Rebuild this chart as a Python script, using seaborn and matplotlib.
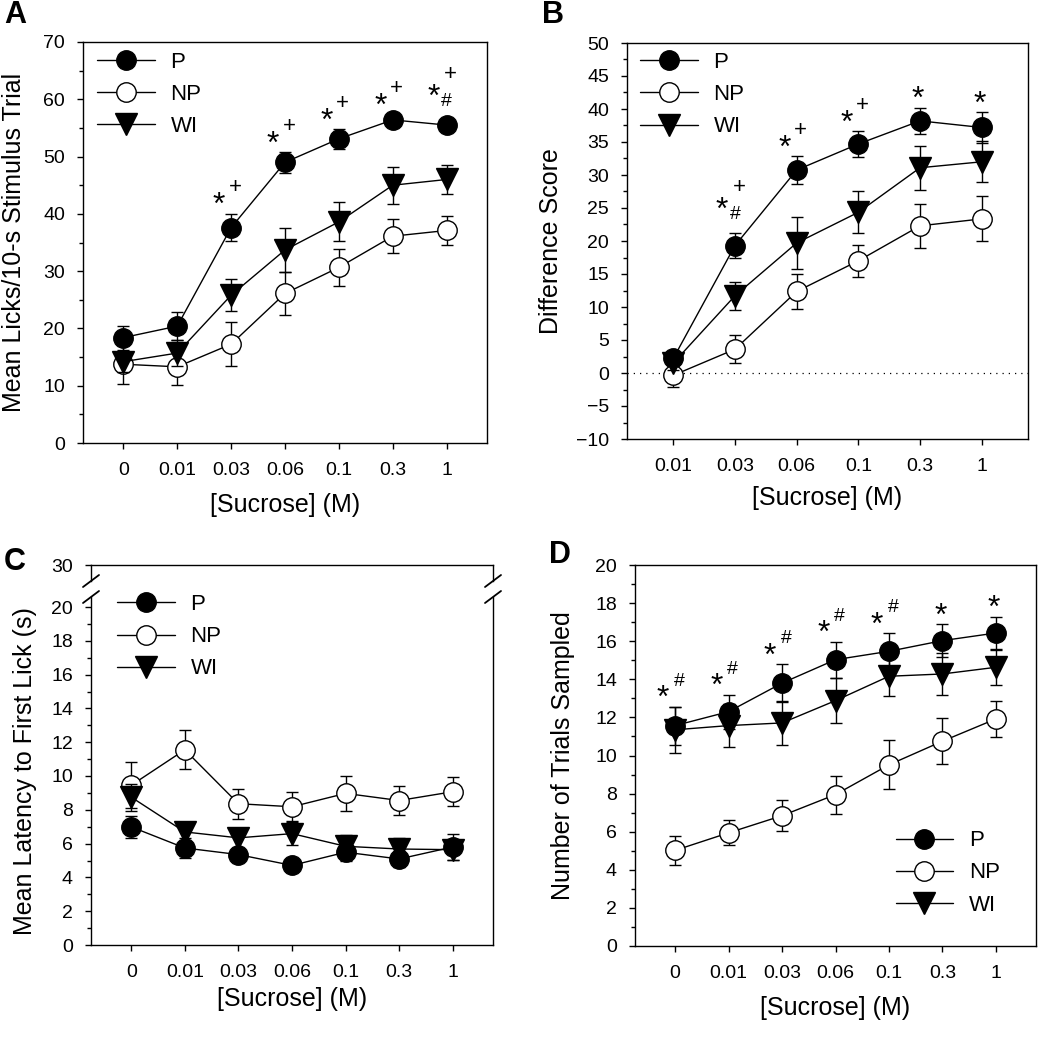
import numpy as np
import matplotlib
matplotlib.use("Agg")
import matplotlib.pyplot as plt
from matplotlib.lines import Line2D
from matplotlib.ticker import MultipleLocator
import seaborn as sns

# concentrations (x categories)
conc = ["0", "0.01", "0.03", "0.06", "0.1", "0.3", "1"]
conc_diff = ["0.01", "0.03", "0.06", "0.1", "0.3", "1"]
groups = ["P", "NP", "WI"]

# A: mean licks / 10-s stimulus trial
A_P = [18.4, 20.4, 37.6, 49.0, 53.1, 56.4, 55.5]
A_P_err = [2.1, 2.4, 2.4, 1.8, 1.7, 1.0, 0.8]
A_NP = [13.75, 13.3, 17.25, 26.1, 30.65, 36.1, 37.1]
A_NP_err = [3.4, 3.2, 3.8, 3.7, 3.3, 3.0, 2.6]
A_WI = [14.2, 15.7, 25.8, 33.7, 38.6, 45.0, 46.0]
A_WI_err = [1.8, 2.2, 2.8, 3.9, 3.4, 3.2, 2.5]
A_star = [0, 0, 1, 1, 1, 1, 1]
A_sup = ["", "", "+", "+", "+", "+", "+"]
A_sub = ["", "", "", "", "", "", "#"]

# B: difference score
B_P = [2.2, 19.3, 30.75, 34.7, 38.2, 37.2]
B_P_err = [1.0, 1.9, 2.1, 1.9, 2.0, 2.3]
B_NP = [-0.35, 3.6, 12.35, 17.0, 22.3, 23.35]
B_NP_err = [1.7, 2.1, 2.6, 2.45, 3.3, 3.4]
B_WI = [1.5, 11.7, 19.7, 24.35, 31.1, 32.0]
B_WI_err = [1.0, 2.1, 3.9, 3.2, 3.3, 3.1]
B_star = [0, 1, 1, 1, 1, 1]
B_sup = ["", "+", "+", "+", "", ""]
B_sub = ["", "#", "", "", "", ""]

# C: mean latency to first lick (s)
C_P = [6.99, 5.74, 5.35, 4.71, 5.49, 5.09, 5.8]
C_P_err = [0.65, 0.6, 0.4, 0.3, 0.5, 0.5, 0.75]
C_NP = [9.45, 11.55, 8.36, 8.18, 8.97, 8.55, 9.07]
C_NP_err = [1.35, 1.15, 0.9, 0.85, 1.05, 0.85, 0.85]
C_WI = [8.75, 6.69, 6.34, 6.59, 5.84, 5.68, 5.64]
C_WI_err = [0.8, 0.55, 0.6, 0.7, 0.65, 0.65, 0.6]

# D: number of trials sampled
D_P = [11.57, 12.3, 13.8, 15.03, 15.47, 16.03, 16.43]
D_P_err = [1.0, 0.9, 1.0, 0.95, 0.96, 0.87, 0.86]
D_NP = [5.02, 5.94, 6.84, 7.95, 9.51, 10.75, 11.92]
D_NP_err = [0.77, 0.65, 0.8, 1.0, 1.28, 1.2, 0.96]
D_WI = [11.35, 11.57, 11.71, 12.88, 14.16, 14.28, 14.63]
D_WI_err = [1.2, 1.13, 1.14, 1.2, 1.05, 1.1, 0.93]
D_star = [1, 1, 1, 1, 1, 1, 1]
D_sup = ["#", "#", "#", "#", "#", "", ""]
D_sub = [""] * 7

sns.set_style("ticks")
plt.rcParams["font.family"] = ["Liberation Sans", "DejaVu Sans"]
plt.rcParams.update({
    "axes.edgecolor": "black", "axes.labelcolor": "black", "text.color": "black",
    "xtick.color": "black", "ytick.color": "black", "axes.linewidth": 1.0,
})

W, H = 1038, 1050
fig = plt.figure(figsize=(W / 100, H / 100), dpi=100)


def box(l, t, r, b):
    # pixel box -> figure fraction rect
    return [l / W, 1 - b / H, (r - l) / W, (b - t) / H]


styles = {
    "P": dict(marker="o", markerfacecolor="black", markersize=14),
    "NP": dict(marker="o", markerfacecolor="white", markersize=14),
    "WI": dict(marker="v", markerfacecolor="black", markersize=15.5),
}
TICK_FS = 14
LAB_FS = 18


def draw(ax, labels, means, errs):
    pos = np.arange(len(labels))
    for k, g in enumerate(groups):
        ax.errorbar(pos, means[k], yerr=errs[k], fmt="none", ecolor="black",
                    elinewidth=1, capsize=4.5, capthick=1, zorder=2 + 2 * k)
        sns.lineplot(x=pos, y=means[k], ax=ax, color="black", linewidth=1,
                     markeredgecolor="black", markeredgewidth=1,
                     label=g, sort=False, zorder=3 + 2 * k, **styles[g])
    ax.set_xlim(-0.75, len(labels) - 0.25)
    ax.set_xticks(pos)
    ax.set_xticklabels(labels)
    ax.tick_params(axis="both", which="major", direction="out", length=4,
                   width=1, labelsize=TICK_FS)
    ax.tick_params(axis="both", which="minor", direction="out", length=3, width=1)
    ax.tick_params(axis="x", pad=10)
    ax.tick_params(axis="y", pad=9)


def mark_sig(ax, x, top, star, sup, sub):
    if not star:
        return
    px = 0.72
    s_fs, p_fs, h_fs = 23, 16, 14
    s_c = 0.58 * s_fs / px   # star glyph centre above baseline (px)
    p_c = 0.34 * p_fs / px
    h_c = 0.36 * h_fs / px
    if sub:
        sdx, sdy, udy, bdy = -13, 33, 48, 21
    elif sup:
        sdx, sdy, udy, bdy = -12, 18, 28, 0
    else:
        sdx, sdy, udy, bdy = -2, 18, 0, 0
    ax.annotate("*", (x, top), xytext=(sdx * px, (sdy - s_c) * px),
                textcoords="offset points", ha="center", va="baseline",
                fontsize=s_fs)
    if sup:
        fs, c = (p_fs, p_c) if sup == "+" else (h_fs, h_c)
        ax.annotate(sup, (x, top), xytext=(4 * px, (udy - c) * px),
                    textcoords="offset points", ha="center", va="baseline",
                    fontsize=fs)
    if sub:
        ax.annotate(sub, (x, top), xytext=(0, (bdy - h_c) * px),
                    textcoords="offset points", ha="center", va="baseline",
                    fontsize=h_fs)


leg_kw = dict(frameon=False, fontsize=16, handlelength=2.6, handletextpad=0.7,
              labelspacing=0.5, borderpad=0, borderaxespad=0)
xlab = "[Sucrose] (M)"

# ---- A ----
axA = fig.add_axes(box(83, 42, 487, 443))
draw(axA, conc, [A_P, A_NP, A_WI], [A_P_err, A_NP_err, A_WI_err])
axA.set_ylim(0, 70)
axA.yaxis.set_major_locator(MultipleLocator(10))
axA.yaxis.set_minor_locator(MultipleLocator(5))
for i in range(len(conc)):
    mark_sig(axA, i, A_P[i] + A_P_err[i], A_star[i], A_sup[i], A_sub[i])
axA.legend(loc="upper left", bbox_to_anchor=(0.035, 0.975), **leg_kw)
axA.set_ylabel("Mean Licks/10-s Stimulus Trial", fontsize=LAB_FS)
axA.set_xlabel(xlab, fontsize=LAB_FS)
axA.yaxis.set_label_coords(-0.14, 0.5)
axA.xaxis.set_label_coords(0.5, -0.125)

# ---- B ----
axB = fig.add_axes(box(627, 43, 1028, 439))
axB.axhline(0, color="black", lw=0.9, ls=(0, (1, 4)), zorder=1)
draw(axB, conc_diff, [B_P, B_NP, B_WI], [B_P_err, B_NP_err, B_WI_err])
axB.set_ylim(-10, 50)
axB.yaxis.set_major_locator(MultipleLocator(5))
axB.yaxis.set_minor_locator(MultipleLocator(2.5))
for i in range(len(conc_diff)):
    mark_sig(axB, i, B_P[i] + B_P_err[i], B_star[i], B_sup[i], B_sub[i])
axB.legend(loc="upper left", bbox_to_anchor=(0.033, 0.977), **leg_kw)
axB.set_ylabel("Difference Score", fontsize=LAB_FS)
axB.set_xlabel(xlab, fontsize=LAB_FS)
axB.yaxis.set_label_coords(-0.16, 0.5)
axB.xaxis.set_label_coords(0.5, -0.118)

# ---- C (broken y axis) ----
axC = fig.add_axes(box(91, 597, 493, 945))
draw(axC, conc, [C_P, C_NP, C_WI], [C_P_err, C_NP_err, C_WI_err])
axC.set_ylim(0, (945 - 597) / (338 / 20))
axC.yaxis.set_major_locator(MultipleLocator(2))
axC.yaxis.set_minor_locator(MultipleLocator(1))
axC.spines["top"].set_visible(False)
axC.legend(loc="upper left", bbox_to_anchor=(0.065, 1.008), **leg_kw)
axC.set_ylabel("Mean Latency to First Lick (s)", fontsize=LAB_FS)
axC.set_xlabel(xlab, fontsize=LAB_FS)
axC.yaxis.set_label_coords(-0.135, 0.5)
axC.xaxis.set_label_coords(0.5, -0.12)

axCt = fig.add_axes(box(91, 565, 493, 581))
axCt.set_xlim(axC.get_xlim())
axCt.set_ylim(30 - 16 / (338 / 20), 30)
axCt.set_yticks([30])
axCt.set_xticks([])
axCt.spines["bottom"].set_visible(False)
axCt.tick_params(axis="y", direction="out", length=4, width=1,
                 labelsize=TICK_FS, pad=9)
axCt.patch.set_alpha(0)

for xp in (91, 493):
    for yp in (581, 597):
        fig.add_artist(Line2D([(xp - 8) / W, (xp + 8) / W],
                              [1 - (yp + 6) / H, 1 - (yp - 6) / H],
                              color="black", lw=1.3, transform=fig.transFigure))

# ---- D ----
axD = fig.add_axes(box(635, 565, 1036, 946))
draw(axD, conc, [D_P, D_NP, D_WI], [D_P_err, D_NP_err, D_WI_err])
axD.set_ylim(0, 20)
axD.yaxis.set_major_locator(MultipleLocator(2))
axD.yaxis.set_minor_locator(MultipleLocator(1))
for i in range(len(conc)):
    mark_sig(axD, i, D_P[i] + D_P_err[i], D_star[i], D_sup[i], D_sub[i])
axD.legend(loc="lower right", bbox_to_anchor=(0.91, 0.08), **leg_kw)
axD.set_ylabel("Number of Trials Sampled", fontsize=LAB_FS)
axD.set_xlabel(xlab, fontsize=LAB_FS)
axD.yaxis.set_label_coords(-0.15, 0.5)
axD.xaxis.set_label_coords(0.5, -0.13)

# panel letters
for letter, (xp, yp) in {"A": (15, 15), "B": (553, 15), "C": (15, 562), "D": (560, 555)}.items():
    fig.text(xp / W, 1 - yp / H, letter, fontsize=22, fontweight="bold",
             ha="center", va="center")

fig.savefig("out.png", dpi=100)
